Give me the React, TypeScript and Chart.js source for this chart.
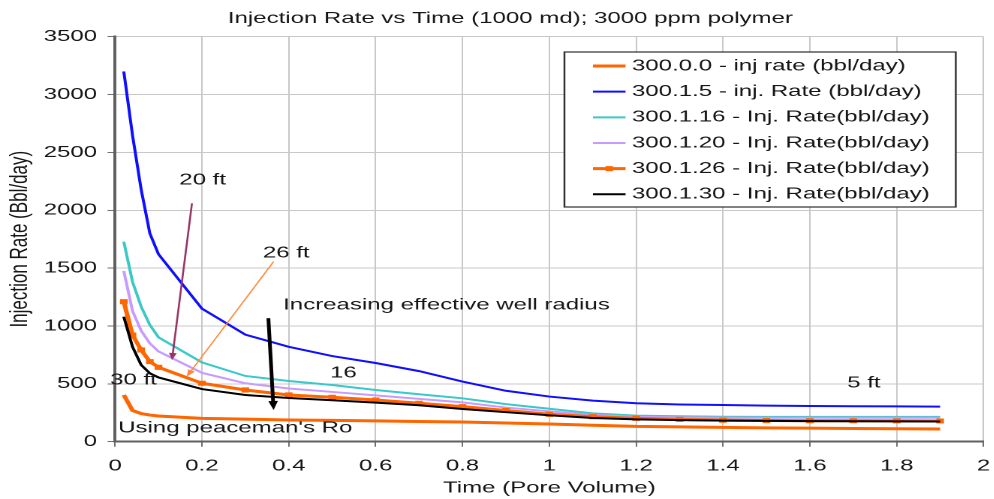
import React, { useEffect, useRef } from 'react';
import { Chart, registerables } from 'chart.js';

Chart.register(...registerables);

// ---------- data ----------
const timePV = [0.02, 0.04, 0.06, 0.08, 0.1, 0.2, 0.3, 0.4, 0.5, 0.6, 0.7, 0.8, 0.9, 1.0, 1.1, 1.2, 1.3, 1.4, 1.5, 1.6, 1.7, 1.8, 1.9];

const rate300_0_0 = [404, 270, 243, 230, 222, 202, 195, 188, 184, 180, 175, 170, 162, 153, 142, 132, 128, 124, 120, 117, 114, 112, 110];
const rate300_1_5 = [3200, 2650, 2180, 1800, 1620, 1150, 925, 820, 740, 680, 610, 520, 440, 390, 355, 332, 322, 317, 312, 308, 306, 305, 303];
const rate300_1_16 = [1729, 1383, 1167, 1009, 902, 685, 568, 525, 490, 447, 410, 375, 325, 285, 245, 225, 220, 216, 215, 215, 215, 215, 215];
const rate300_1_20 = [1475, 1130, 960, 850, 780, 595, 505, 460, 430, 400, 370, 340, 295, 262, 232, 215, 210, 208, 207, 207, 207, 207, 207];
const rate300_1_26 = [1210, 922, 793, 692, 643, 505, 447, 404, 384, 360, 332, 303, 270, 237, 216, 202, 193, 186, 183, 181, 181, 180, 179];
const rate300_1_30 = [1080, 821, 663, 591, 555, 455, 404, 378, 358, 338, 315, 283, 255, 228, 205, 193, 186, 182, 180, 178, 177, 176, 175];

const seriesLabels = [
  '300.0.0 - inj rate (bbl/day)',
  '300.1.5 - inj. Rate (bbl/day)',
  '300.1.16 - Inj. Rate(bbl/day)',
  '300.1.20 - Inj. Rate(bbl/day)',
  '300.1.26 - Inj. Rate(bbl/day)',
  '300.1.30 - Inj. Rate(bbl/day)',
];
const seriesValues = [rate300_0_0, rate300_1_5, rate300_1_16, rate300_1_20, rate300_1_26, rate300_1_30];
const seriesColors = ['#ff6600', '#1010ff', '#3cc8c8', '#c89cff', '#ff6600', '#000000'];
const seriesWidths = [3, 2, 2, 2, 3, 2];
const seriesMarkers = [false, false, false, false, true, false];

const xTickLabels = ['0', '0.2', '0.4', '0.6', '0.8', '1', '1.2', '1.4', '1.6', '1.8', '2'];
const yTickLabels = ['0', '500', '1000', '1500', '2000', '2500', '3000', '3500'];

const chartTitle = 'Injection Rate vs Time (1000 md); 3000 ppm polymer';
const xAxisTitle = 'Time (Pore Volume)';
const yAxisTitle = 'Injection Rate (Bbl/day)';

// annotations in data coordinates
const noteTexts = [
  { text: '20 ft', x: 0.2016, y: 2260, align: 'center' },
  { text: '26 ft', x: 0.394, y: 1630, align: 'center' },
  { text: 'Increasing effective well radius', x: 0.387, y: 1181, align: 'left' },
  { text: '30 ft', x: -0.0115, y: 533, align: 'left' },
  { text: '16', x: 0.495, y: 591, align: 'left' },
  { text: '5 ft', x: 1.686, y: 505, align: 'left' },
  { text: "Using peaceman's Ro", x: 0.007, y: 116, align: 'left' },
];

const noteArrows = [
  { x1: 0.177, y1: 2060, x2: 0.131, y2: 706, color: '#993366', width: 1.3, head: 7, half: 2.6 },
  { x1: 0.365, y1: 1556, x2: 0.165, y2: 562, color: '#ff8a3a', width: 1, head: 7, half: 2.6 },
  { x1: 0.353, y1: 1067, x2: 0.365, y2: 274, color: '#000000', width: 2.5, head: 9, half: 3.2 },
];

// ---------- layout ----------
const STRETCH = 1.5;
const VIEW_W = 994;
const VIEW_H = 499;
const CANVAS_W = VIEW_W / STRETCH;
const FONT_FAMILY = '"Liberation Sans", Arial, Helvetica, sans-serif';
const TEXT_COLOR = '#161616';

function drawArrow(ctx: CanvasRenderingContext2D, x1: number, y1: number, x2: number, y2: number, color: string, width: number, head: number, half: number) {
  const ang = Math.atan2(y2 - y1, x2 - x1);
  const bx = x2 - head * Math.cos(ang);
  const by = y2 - head * Math.sin(ang);
  ctx.strokeStyle = color;
  ctx.lineWidth = width;
  ctx.beginPath();
  ctx.moveTo(x1, y1);
  ctx.lineTo(bx, by);
  ctx.stroke();
  ctx.fillStyle = color;
  ctx.beginPath();
  ctx.moveTo(x2, y2);
  ctx.lineTo(bx + half * Math.sin(ang), by - half * Math.cos(ang));
  ctx.lineTo(bx - half * Math.sin(ang), by + half * Math.cos(ang));
  ctx.closePath();
  ctx.fill();
}

const overlayPlugin = {
  id: 'overlay',
  afterDatasetsDraw(chart: any) {
    const { ctx, scales } = chart;
    const sx = scales.x;
    const sy = scales.y;
    ctx.save();
    noteArrows.forEach((a) => {
      drawArrow(ctx, sx.getPixelForValue(a.x1), sy.getPixelForValue(a.y1), sx.getPixelForValue(a.x2), sy.getPixelForValue(a.y2), a.color, a.width, a.head, a.half);
    });
    ctx.font = `16px ${FONT_FAMILY}`;
    ctx.fillStyle = TEXT_COLOR;
    ctx.textBaseline = 'middle';
    noteTexts.forEach((n) => {
      ctx.textAlign = n.align as CanvasTextAlign;
      ctx.fillText(n.text, sx.getPixelForValue(n.x), sy.getPixelForValue(n.y));
    });
    // legend
    const bx = 376, by = 52, bw = 260.7, bh = 155;
    ctx.fillStyle = '#ffffff';
    ctx.fillRect(bx, by, bw, bh);
    ctx.strokeStyle = '#303030';
    ctx.lineWidth = 1.2;
    ctx.strokeRect(bx, by, bw, bh);
    chart.data.datasets.forEach((ds: any, i: number) => {
      const y = 66 + i * 25.66;
      ctx.strokeStyle = ds.borderColor;
      ctx.lineWidth = ds.borderWidth;
      ctx.beginPath();
      ctx.moveTo(395, y);
      ctx.lineTo(416.7, y);
      ctx.stroke();
      if (seriesMarkers[i]) {
        ctx.fillStyle = ds.borderColor;
        ctx.fillRect(405.85 - 2.5, y - 2.5, 5, 5);
      }
      ctx.fillStyle = TEXT_COLOR;
      ctx.textAlign = 'left';
      ctx.textBaseline = 'middle';
      ctx.font = `16px ${FONT_FAMILY}`;
      ctx.fillText(ds.label, 421, y);
    });
    ctx.restore();
  },
  afterDraw(chart: any) {
    const { ctx } = chart;
    ctx.save();
    ctx.font = `16px ${FONT_FAMILY}`;
    ctx.fillStyle = TEXT_COLOR;
    ctx.textAlign = 'center';
    ctx.textBaseline = 'middle';
    ctx.fillText(chartTitle, 340, 18.5);
    ctx.restore();
  },
};

export default function App() {
  const canvasRef = useRef<HTMLCanvasElement | null>(null);

  useEffect(() => {
    document.body.style.margin = '0';
    document.body.style.overflow = 'hidden';
    const canvas = canvasRef.current;
    if (!canvas) return;

    const datasets = seriesLabels.map((label, i) => ({
      label,
      data: timePV.map((t, j) => ({ x: t, y: seriesValues[i][j] })),
      borderColor: seriesColors[i],
      backgroundColor: seriesColors[i],
      borderWidth: seriesWidths[i],
      pointRadius: seriesMarkers[i] ? 3.6 : 0,
      pointStyle: 'rect',
      pointBackgroundColor: seriesColors[i],
      pointBorderWidth: 0,
      tension: 0,
      fill: false,
      order: seriesLabels.length - i,
    }));

    const tickFont = { family: FONT_FAMILY, size: 16 };

    const chart = new Chart(canvas, {
      type: 'line',
      data: { datasets } as any,
      options: {
        animation: false,
        responsive: true,
        maintainAspectRatio: false,
        devicePixelRatio: 2,
        events: [],
        layout: { padding: { top: 36.7, right: 7.5, left: 0, bottom: 0 } },
        plugins: {
          legend: { display: false },
          title: { display: false },
          tooltip: { enabled: false },
        },
        scales: {
          x: {
            type: 'linear',
            min: 0,
            max: 2,
            ticks: {
              stepSize: 0.2,
              autoSkip: false,
              maxRotation: 0,
              padding: 10,
              color: TEXT_COLOR,
              font: tickFont,
              callback: (_v: any, i: number) => xTickLabels[i],
            },
            grid: { color: '#c8c8c8', lineWidth: 1, tickLength: 5, tickColor: '#707070' },
            border: { color: '#606060', width: 2 },
            title: {
              display: true,
              text: xAxisTitle,
              color: TEXT_COLOR,
              font: { family: FONT_FAMILY, size: 16 },
              padding: { top: 0, bottom: 1.5 },
            },
            afterFit: (s: any) => {
              s.height = 57.3;
              s.paddingLeft = 0;
              s.paddingRight = 0;
            },
          },
          y: {
            type: 'linear',
            min: 0,
            max: 3500,
            ticks: {
              stepSize: 500,
              padding: 7,
              color: TEXT_COLOR,
              font: tickFont,
              callback: (_v: any, i: number) => yTickLabels[i],
            },
            grid: { color: '#c8c8c8', lineWidth: 1, tickLength: 5, tickColor: '#707070' },
            border: { color: '#606060', width: 2 },
            title: {
              display: true,
              text: yAxisTitle,
              color: TEXT_COLOR,
              font: { family: FONT_FAMILY, size: 17 },
              padding: { top: 3, bottom: 0 },
            },
            afterFit: (s: any) => {
              s.width = 76.67;
              s.paddingTop = 0;
              s.paddingBottom = 0;
            },
          },
        },
      } as any,
      plugins: [overlayPlugin],
    });

    return () => {
      chart.destroy();
    };
  }, []);

  return (
    <div
      style={{
        position: 'absolute',
        left: 0,
        top: 0,
        width: `${CANVAS_W}px`,
        height: `${VIEW_H}px`,
        transform: `scaleX(${STRETCH})`,
        transformOrigin: '0 0',
      }}
    >
      <canvas ref={canvasRef} />
    </div>
  );
}
